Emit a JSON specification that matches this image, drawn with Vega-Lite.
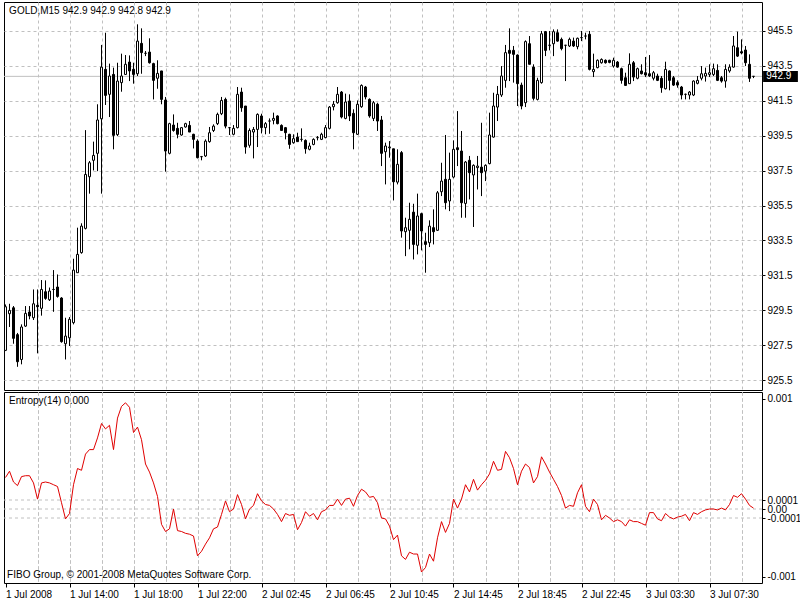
{
  "$schema": "https://vega.github.io/schema/vega-lite/v6.json",
  "background": "white",
  "padding": {"left": 2, "top": 1, "right": 0, "bottom": 0},
  "spacing": 2,
  "bounds": "flush",
  "config": {
    "view": {"stroke": "black", "strokeWidth": 1},
    "axis": {"labelFont": "Liberation Sans", "labelFontSize": 10, "labelColor": "black", "tickColor": "black", "labelOverlap": false, "labelBound": false, "title": null},
    "text": {"font": "Liberation Sans", "fontSize": 10, "color": "black"}
  },
  "datasets": {
    "bars": [
      {"i":0,"o":927.2,"h":929.83,"l":927.16,"c":929.7,"e":3.5e-4},
      {"i":1,"o":929.3,"h":929.87,"l":928.54,"c":929.49,"e":4.2e-4},
      {"i":2,"o":929.64,"h":929.74,"l":927.58,"c":927.89,"e":3.0e-4},
      {"i":3,"o":928.1,"h":928.2,"l":926.26,"c":926.55,"e":2.6e-4},
      {"i":4,"o":926.68,"h":928.69,"l":926.4,"c":928.54,"e":3.6e-4},
      {"i":5,"o":928.59,"h":929.74,"l":928.54,"c":929.32,"e":3.7e-4},
      {"i":6,"o":929.4,"h":929.74,"l":928.98,"c":929.17,"e":3.7e-4},
      {"i":7,"o":929.07,"h":930.69,"l":928.94,"c":929.87,"e":2.9e-4},
      {"i":8,"o":929.78,"h":930.69,"l":927.03,"c":929.7,"e":1.1e-4},
      {"i":9,"o":929.61,"h":931.23,"l":929.19,"c":930.69,"e":2.9e-4},
      {"i":10,"o":930.56,"h":931.21,"l":930.1,"c":930.18,"e":3.0e-4},
      {"i":11,"o":930.1,"h":930.8,"l":930.03,"c":930.6,"e":2.9e-4},
      {"i":12,"o":930.69,"h":931.8,"l":929.41,"c":930.69,"e":2.7e-4},
      {"i":13,"o":930.83,"h":931.55,"l":930.22,"c":930.29,"e":2.5e-4},
      {"i":14,"o":930.2,"h":930.25,"l":927.64,"c":927.7,"e":0.7e-4},
      {"i":15,"o":927.58,"h":929.07,"l":926.68,"c":928.02,"e":-1.1e-4},
      {"i":16,"o":927.92,"h":929.11,"l":927.45,"c":928.98,"e":-0.5e-4},
      {"i":17,"o":928.79,"h":932.45,"l":928.69,"c":931.8,"e":2.7e-4},
      {"i":18,"o":931.65,"h":934.23,"l":931.65,"c":932.7,"e":4.5e-4},
      {"i":19,"o":932.8,"h":934.48,"l":932.74,"c":934.32,"e":4.3e-4},
      {"i":20,"o":934.19,"h":939.82,"l":934.13,"c":937.28,"e":6.1e-4},
      {"i":21,"o":937.15,"h":938.05,"l":936.18,"c":937.95,"e":6.6e-4},
      {"i":22,"o":938.09,"h":939.16,"l":937.51,"c":938.37,"e":6.6e-4},
      {"i":23,"o":938.49,"h":941.3,"l":937.47,"c":940.4,"e":7.9e-4},
      {"i":24,"o":940.47,"h":944.7,"l":936.18,"c":943.43,"e":9.5e-4},
      {"i":25,"o":943.3,"h":945.4,"l":941.26,"c":941.81,"e":8.9e-4},
      {"i":26,"o":941.87,"h":943.63,"l":940.57,"c":942.92,"e":9.3e-4},
      {"i":27,"o":943.01,"h":943.4,"l":938.72,"c":939.52,"e":6.6e-4},
      {"i":28,"o":939.56,"h":943.68,"l":939.48,"c":942.63,"e":10.1e-4},
      {"i":29,"o":942.54,"h":944.2,"l":942.02,"c":942.92,"e":11.4e-4},
      {"i":30,"o":943.01,"h":944.12,"l":942.98,"c":943.59,"e":11.8e-4},
      {"i":31,"o":943.72,"h":944.1,"l":942.63,"c":943.21,"e":11.3e-4},
      {"i":32,"o":943.3,"h":943.68,"l":942.48,"c":943.01,"e":8.5e-4},
      {"i":33,"o":943.05,"h":945.88,"l":942.92,"c":944.92,"e":9.1e-4},
      {"i":34,"o":944.79,"h":945.65,"l":943.05,"c":944.26,"e":7.7e-4},
      {"i":35,"o":944.22,"h":944.35,"l":944.06,"c":944.22,"e":5.0e-4},
      {"i":36,"o":944.29,"h":945.08,"l":943.63,"c":943.68,"e":4.1e-4},
      {"i":37,"o":943.63,"h":943.68,"l":941.58,"c":942.67,"e":2.9e-4},
      {"i":38,"o":942.79,"h":943.82,"l":942.19,"c":943.07,"e":1.4e-4},
      {"i":39,"o":943.21,"h":943.21,"l":941.3,"c":941.58,"e":-1.7e-4},
      {"i":40,"o":941.54,"h":941.72,"l":937.44,"c":938.62,"e":-2.5e-4},
      {"i":41,"o":938.49,"h":940.24,"l":938.43,"c":940.19,"e":-2.2e-4},
      {"i":42,"o":940.11,"h":940.72,"l":939.73,"c":939.8,"e":0},
      {"i":43,"o":939.92,"h":940.24,"l":939.35,"c":939.58,"e":-2.4e-4},
      {"i":44,"o":939.54,"h":940.0,"l":939.5,"c":939.96,"e":-2.5e-4},
      {"i":45,"o":940.0,"h":940.24,"l":939.96,"c":940.19,"e":-2.7e-4},
      {"i":46,"o":940.09,"h":940.34,"l":939.71,"c":939.71,"e":-2.8e-4},
      {"i":47,"o":939.58,"h":939.61,"l":938.77,"c":939.29,"e":-3.0e-4},
      {"i":48,"o":939.19,"h":939.29,"l":938.2,"c":938.24,"e":-5.2e-4},
      {"i":49,"o":938.3,"h":938.34,"l":938.09,"c":938.3,"e":-4.7e-4},
      {"i":50,"o":938.34,"h":939.29,"l":938.28,"c":939.19,"e":-3.9e-4},
      {"i":51,"o":939.16,"h":940.0,"l":939.1,"c":939.67,"e":-3.2e-4},
      {"i":52,"o":939.8,"h":940.15,"l":939.71,"c":940.05,"e":-2.2e-4},
      {"i":53,"o":940.19,"h":940.82,"l":940.11,"c":940.72,"e":-2.0e-4},
      {"i":54,"o":940.76,"h":941.72,"l":940.68,"c":941.52,"e":-0.6e-4},
      {"i":55,"o":941.58,"h":941.68,"l":939.92,"c":940.05,"e":0.9e-4},
      {"i":56,"o":939.96,"h":940.0,"l":939.54,"c":939.96,"e":-0.3e-4},
      {"i":57,"o":939.58,"h":940.11,"l":939.52,"c":939.92,"e":0},
      {"i":58,"o":939.96,"h":942.29,"l":939.92,"c":941.87,"e":1.6e-4},
      {"i":59,"o":942.0,"h":942.25,"l":940.87,"c":941.1,"e":0.5e-4},
      {"i":60,"o":941.2,"h":941.2,"l":938.47,"c":938.85,"e":-1.1e-4},
      {"i":61,"o":938.95,"h":939.92,"l":938.81,"c":939.8,"e":0},
      {"i":62,"o":939.71,"h":940.0,"l":938.2,"c":939.86,"e":0.4e-4},
      {"i":63,"o":939.86,"h":940.78,"l":938.85,"c":940.72,"e":1.7e-4},
      {"i":64,"o":940.63,"h":940.76,"l":939.63,"c":939.96,"e":0.9e-4},
      {"i":65,"o":939.96,"h":940.28,"l":939.58,"c":940.19,"e":0.5e-4},
      {"i":66,"o":940.34,"h":940.49,"l":939.61,"c":940.34,"e":0.4e-4},
      {"i":67,"o":940.38,"h":940.82,"l":940.15,"c":940.49,"e":0},
      {"i":68,"o":940.63,"h":940.67,"l":940.15,"c":940.19,"e":-0.6e-4},
      {"i":69,"o":940.09,"h":940.15,"l":939.77,"c":939.8,"e":-1.4e-4},
      {"i":70,"o":939.96,"h":940.0,"l":939.29,"c":939.67,"e":-0.5e-4},
      {"i":71,"o":939.58,"h":939.61,"l":938.75,"c":939.0,"e":-0.7e-4},
      {"i":72,"o":939.1,"h":939.58,"l":939.04,"c":939.33,"e":-0.6e-4},
      {"i":73,"o":939.42,"h":939.67,"l":939.16,"c":939.16,"e":-2.3e-4},
      {"i":74,"o":939.29,"h":939.92,"l":939.16,"c":939.29,"e":-1.5e-4},
      {"i":75,"o":939.23,"h":939.29,"l":938.47,"c":938.75,"e":-0.3e-4},
      {"i":76,"o":938.72,"h":939.1,"l":938.66,"c":938.91,"e":-0.8e-4},
      {"i":77,"o":939.0,"h":939.35,"l":938.95,"c":939.29,"e":-0.5e-4},
      {"i":78,"o":939.39,"h":939.48,"l":939.23,"c":939.39,"e":-1.2e-4},
      {"i":79,"o":939.29,"h":939.67,"l":939.25,"c":939.58,"e":-0.3e-4},
      {"i":80,"o":939.39,"h":940.11,"l":939.35,"c":939.96,"e":-0.1e-4},
      {"i":81,"o":939.92,"h":941.2,"l":939.86,"c":941.14,"e":0.4e-4},
      {"i":82,"o":941.16,"h":941.49,"l":940.95,"c":941.3,"e":0.4e-4},
      {"i":83,"o":941.39,"h":942.29,"l":941.33,"c":941.87,"e":1.1e-4},
      {"i":84,"o":942.0,"h":942.06,"l":940.49,"c":940.57,"e":0.4e-4},
      {"i":85,"o":940.49,"h":941.91,"l":940.44,"c":941.43,"e":1.1e-4},
      {"i":86,"o":941.49,"h":941.87,"l":940.34,"c":940.63,"e":1.2e-4},
      {"i":87,"o":940.78,"h":941.01,"l":938.72,"c":939.67,"e":0.3e-4},
      {"i":88,"o":939.58,"h":941.52,"l":939.54,"c":941.3,"e":1.5e-4},
      {"i":89,"o":941.16,"h":942.44,"l":941.1,"c":942.38,"e":2.2e-4},
      {"i":90,"o":942.29,"h":942.35,"l":941.58,"c":941.72,"e":1.9e-4},
      {"i":91,"o":941.58,"h":941.64,"l":940.53,"c":940.63,"e":1.3e-4},
      {"i":92,"o":940.49,"h":941.49,"l":940.34,"c":941.39,"e":1.4e-4},
      {"i":93,"o":941.3,"h":941.39,"l":939.77,"c":940.34,"e":0.7e-4},
      {"i":94,"o":940.4,"h":940.63,"l":937.76,"c":938.49,"e":-1.0e-4},
      {"i":95,"o":938.58,"h":939.1,"l":936.71,"c":938.91,"e":-1.1e-4},
      {"i":96,"o":938.81,"h":939.19,"l":938.24,"c":938.85,"e":-1.9e-4},
      {"i":97,"o":938.75,"h":938.75,"l":935.79,"c":936.86,"e":-3.4e-4},
      {"i":98,"o":936.84,"h":938.72,"l":936.71,"c":937.86,"e":-2.9e-4},
      {"i":99,"o":938.53,"h":938.62,"l":933.66,"c":934.04,"e":-5.2e-4},
      {"i":100,"o":934.0,"h":934.8,"l":932.6,"c":934.23,"e":-5.6e-4},
      {"i":101,"o":934.08,"h":935.66,"l":932.99,"c":934.71,"e":-4.8e-4},
      {"i":102,"o":935.12,"h":935.6,"l":932.41,"c":933.27,"e":-5.0e-4},
      {"i":103,"o":933.22,"h":936.18,"l":932.7,"c":934.9,"e":-5.0e-4},
      {"i":104,"o":935.03,"h":935.09,"l":932.93,"c":934.04,"e":-7.0e-4},
      {"i":105,"o":933.43,"h":933.94,"l":931.65,"c":933.27,"e":-6.5e-4},
      {"i":106,"o":933.37,"h":934.65,"l":933.12,"c":934.32,"e":-5.0e-4},
      {"i":107,"o":934.23,"h":935.28,"l":933.27,"c":934.0,"e":-5.8e-4},
      {"i":108,"o":934.08,"h":936.33,"l":934.04,"c":936.23,"e":-3.2e-4},
      {"i":109,"o":936.29,"h":937.95,"l":936.04,"c":936.9,"e":-1.4e-4},
      {"i":110,"o":937.0,"h":939.54,"l":935.28,"c":935.66,"e":-2.6e-4},
      {"i":111,"o":935.76,"h":938.53,"l":935.18,"c":937.0,"e":-1.6e-4},
      {"i":112,"o":937.13,"h":939.23,"l":937.06,"c":938.72,"e":1.1e-4},
      {"i":113,"o":938.81,"h":940.91,"l":937.76,"c":938.7,"e":0.1e-4},
      {"i":114,"o":938.62,"h":939.77,"l":934.8,"c":935.66,"e":1.1e-4},
      {"i":115,"o":935.62,"h":938.05,"l":934.8,"c":937.99,"e":2.7e-4},
      {"i":116,"o":938.09,"h":938.34,"l":935.85,"c":937.38,"e":1.9e-4},
      {"i":117,"o":937.25,"h":937.86,"l":934.27,"c":937.8,"e":3.3e-4},
      {"i":118,"o":937.67,"h":938.34,"l":936.42,"c":937.76,"e":2.1e-4},
      {"i":119,"o":937.7,"h":940.24,"l":936.04,"c":937.38,"e":2.7e-4},
      {"i":120,"o":937.47,"h":937.86,"l":936.9,"c":937.8,"e":3.2e-4},
      {"i":121,"o":937.9,"h":940.82,"l":937.86,"c":939.54,"e":3.9e-4},
      {"i":122,"o":939.42,"h":941.96,"l":939.39,"c":941.2,"e":5.3e-4},
      {"i":123,"o":941.14,"h":942.35,"l":940.34,"c":941.87,"e":4.3e-4},
      {"i":124,"o":941.83,"h":943.49,"l":941.72,"c":942.92,"e":4.4e-4},
      {"i":125,"o":942.67,"h":944.7,"l":942.25,"c":944.26,"e":6.4e-4},
      {"i":126,"o":944.39,"h":945.65,"l":942.63,"c":944.22,"e":5.7e-4},
      {"i":127,"o":944.39,"h":944.64,"l":942.54,"c":944.16,"e":4.5e-4},
      {"i":128,"o":944.12,"h":944.16,"l":941.2,"c":942.48,"e":2.7e-4},
      {"i":129,"o":942.4,"h":942.54,"l":941.01,"c":941.2,"e":4.2e-4},
      {"i":130,"o":941.39,"h":944.96,"l":941.14,"c":944.89,"e":5.0e-4},
      {"i":131,"o":944.77,"h":945.21,"l":943.59,"c":943.59,"e":4.6e-4},
      {"i":132,"o":943.43,"h":943.59,"l":941.52,"c":941.64,"e":2.9e-4},
      {"i":133,"o":941.58,"h":942.82,"l":941.52,"c":942.67,"e":3.6e-4},
      {"i":134,"o":942.54,"h":945.5,"l":942.48,"c":945.34,"e":5.8e-4},
      {"i":135,"o":945.46,"h":945.5,"l":944.06,"c":944.39,"e":5.0e-4},
      {"i":136,"o":944.68,"h":945.5,"l":944.39,"c":944.68,"e":4.1e-4},
      {"i":137,"o":944.77,"h":945.59,"l":944.06,"c":945.46,"e":3.3e-4},
      {"i":138,"o":945.4,"h":945.59,"l":944.89,"c":944.92,"e":2.5e-4},
      {"i":139,"o":945.02,"h":945.12,"l":944.39,"c":944.49,"e":1.5e-4},
      {"i":140,"o":944.68,"h":944.7,"l":942.63,"c":944.68,"e":0.1e-4},
      {"i":141,"o":944.64,"h":945.12,"l":944.58,"c":945.02,"e":0.4e-4},
      {"i":142,"o":944.92,"h":945.12,"l":944.58,"c":944.64,"e":0.3e-4},
      {"i":143,"o":944.6,"h":945.12,"l":944.45,"c":945.08,"e":1.8e-4},
      {"i":144,"o":945.12,"h":945.5,"l":944.92,"c":945.12,"e":2.7e-4},
      {"i":145,"o":945.21,"h":945.4,"l":945.02,"c":945.21,"e":0.3e-4},
      {"i":146,"o":945.31,"h":945.5,"l":943.24,"c":943.3,"e":-0.3e-4},
      {"i":147,"o":943.17,"h":944.2,"l":942.86,"c":943.3,"e":1.1e-4},
      {"i":148,"o":943.4,"h":943.87,"l":943.36,"c":943.82,"e":0.5e-4},
      {"i":149,"o":943.68,"h":943.93,"l":943.63,"c":943.87,"e":-1.2e-4},
      {"i":150,"o":943.82,"h":943.87,"l":943.63,"c":943.68,"e":-0.7e-4},
      {"i":151,"o":943.82,"h":943.85,"l":943.65,"c":943.7,"e":-1.0e-4},
      {"i":152,"o":943.49,"h":943.97,"l":943.4,"c":943.82,"e":-1.4e-4},
      {"i":153,"o":943.72,"h":943.78,"l":943.4,"c":943.43,"e":-1.2e-4},
      {"i":154,"o":943.34,"h":943.4,"l":942.48,"c":942.67,"e":-1.4e-4},
      {"i":155,"o":942.82,"h":943.11,"l":942.35,"c":942.38,"e":-1.9e-4},
      {"i":156,"o":942.48,"h":944.22,"l":942.48,"c":943.59,"e":-1.2e-4},
      {"i":157,"o":943.68,"h":943.78,"l":942.63,"c":942.86,"e":-1.4e-4},
      {"i":158,"o":942.79,"h":943.4,"l":942.73,"c":943.34,"e":-1.4e-4},
      {"i":159,"o":943.21,"h":943.59,"l":943.01,"c":943.05,"e":-1.6e-4},
      {"i":160,"o":943.11,"h":944.01,"l":942.86,"c":942.98,"e":-1.8e-4},
      {"i":161,"o":943.05,"h":944.12,"l":942.86,"c":942.92,"e":-0.4e-4},
      {"i":162,"o":942.79,"h":943.21,"l":942.67,"c":943.11,"e":-0.4e-4},
      {"i":163,"o":942.92,"h":943.05,"l":942.63,"c":942.67,"e":-1.1e-4},
      {"i":164,"o":942.79,"h":942.92,"l":941.96,"c":942.25,"e":-1.3e-4},
      {"i":165,"o":942.19,"h":943.74,"l":942.15,"c":943.3,"e":-0.5e-4},
      {"i":166,"o":943.21,"h":943.24,"l":942.1,"c":942.67,"e":-0.9e-4},
      {"i":167,"o":942.82,"h":942.92,"l":942.35,"c":942.4,"e":-1.1e-4},
      {"i":168,"o":942.54,"h":942.67,"l":942.25,"c":942.4,"e":-0.9e-4},
      {"i":169,"o":942.29,"h":942.35,"l":941.58,"c":941.83,"e":-0.8e-4},
      {"i":170,"o":941.87,"h":941.91,"l":941.58,"c":941.87,"e":-0.6e-4},
      {"i":171,"o":941.83,"h":942.06,"l":941.58,"c":942.0,"e":-1.3e-4},
      {"i":172,"o":941.83,"h":942.67,"l":941.77,"c":942.63,"e":-0.4e-4},
      {"i":173,"o":942.5,"h":942.92,"l":942.44,"c":942.67,"e":-0.6e-4},
      {"i":174,"o":942.79,"h":943.49,"l":942.67,"c":943.05,"e":-0.3e-4},
      {"i":175,"o":942.92,"h":943.4,"l":942.6,"c":943.07,"e":-0.1e-4},
      {"i":176,"o":943.01,"h":943.59,"l":942.86,"c":943.11,"e":0},
      {"i":177,"o":943.01,"h":943.63,"l":942.92,"c":943.34,"e":0},
      {"i":178,"o":943.24,"h":943.59,"l":942.63,"c":942.67,"e":-0.1e-4},
      {"i":179,"o":942.82,"h":942.92,"l":942.54,"c":942.63,"e":0.1e-4},
      {"i":180,"o":942.63,"h":943.59,"l":942.25,"c":943.3,"e":-0.1e-4},
      {"i":181,"o":943.21,"h":943.59,"l":943.11,"c":943.43,"e":0.5e-4},
      {"i":182,"o":943.43,"h":945.21,"l":943.4,"c":944.64,"e":1.5e-4},
      {"i":183,"o":944.54,"h":945.46,"l":944.01,"c":944.06,"e":1.3e-4},
      {"i":184,"o":944.31,"h":945.02,"l":944.16,"c":944.24,"e":1.7e-4},
      {"i":185,"o":944.41,"h":944.64,"l":943.49,"c":943.68,"e":1.1e-4},
      {"i":186,"o":943.59,"h":944.16,"l":942.58,"c":942.79,"e":0.4e-4},
      {"i":187,"o":942.9,"h":942.9,"l":942.8,"c":942.9,"e":0.1e-4}
    ],
    "levels": [{"lv": 1e-4}, {"lv": 0}, {"lv": -1e-4}],
    "one": [{}]
  },
  "vconcat": [
    {
      "width": 758,
      "height": 388,
      "layer": [
        {
          "data": {"name": "one"},
          "mark": {"type": "rule", "color": "#c0c0c0", "strokeWidth": 1},
          "encoding": {"y": {"datum": 942.9, "type": "quantitative",
                  "scale": {"domain": [924.93, 947.16], "nice": false, "zero": false, "padding": 0},
                  "axis": {"orient": "right", "values": [925.5,927.5,929.5,931.5,933.5,935.5,937.5,939.5,941.5,943.5,945.5], "format": ".1f", "grid": true, "gridDash": [3,3], "gridColor": "#c0c0c0", "tickSize": 3, "labelPadding": 2, "domain": false}}}
        },
        {
          "data": {"name": "bars"},
          "mark": {"type": "rule", "color": "black", "strokeWidth": 1},
          "encoding": {
            "x": {"field": "i", "type": "quantitative",
                  "scale": {"domain": [-0.375, 189.125], "nice": false, "zero": false, "padding": 0},
                  "axis": {"orient": "bottom", "values": [8,16,24,32,40,48,56,64,72,80,88,96,104,112,120,128,136,144,152,160,168,176,184], "labels": false, "ticks": false, "domain": false, "grid": true, "gridDash": [3,3], "gridColor": "#c0c0c0"}},
            "y": {"field": "l", "type": "quantitative",
                  "axis": {"orient": "right", "values": [925.5,927.5,929.5,931.5,933.5,935.5,937.5,939.5,941.5,943.5,945.5], "format": ".1f", "grid": true, "gridDash": [3,3], "gridColor": "#c0c0c0", "tickSize": 3, "labelPadding": 2, "domain": false}},
            "y2": {"field": "h"}
          }
        },
        {
          "data": {"name": "bars"},
          "mark": {"type": "bar", "size": 2, "stroke": "black", "strokeWidth": 1},
          "encoding": {
            "x": {"field": "i", "type": "quantitative",
                  "axis": {"orient": "bottom", "values": [8,16,24,32,40,48,56,64,72,80,88,96,104,112,120,128,136,144,152,160,168,176,184], "labels": false, "ticks": false, "domain": false, "grid": true, "gridDash": [3,3], "gridColor": "#c0c0c0"}},
            "y": {"field": "o", "type": "quantitative",
                  "axis": {"orient": "right", "values": [925.5,927.5,929.5,931.5,933.5,935.5,937.5,939.5,941.5,943.5,945.5], "format": ".1f", "grid": true, "gridDash": [3,3], "gridColor": "#c0c0c0", "tickSize": 3, "labelPadding": 2, "domain": false}},
            "y2": {"field": "c"},
            "fill": {"condition": {"test": "datum.c >= datum.o", "value": "white"}, "value": "black"}
          }
        },
        {
          "data": {"name": "one"},
          "mark": {"type": "text", "align": "left", "baseline": "middle"},
          "encoding": {
            "x": {"datum": 0.9, "type": "quantitative",
                  "axis": {"orient": "bottom", "values": [8,16,24,32,40,48,56,64,72,80,88,96,104,112,120,128,136,144,152,160,168,176,184], "labels": false, "ticks": false, "domain": false, "grid": true, "gridDash": [3,3], "gridColor": "#c0c0c0"}},
            "y": {"datum": 946.65, "type": "quantitative",
                  "axis": {"orient": "right", "values": [925.5,927.5,929.5,931.5,933.5,935.5,937.5,939.5,941.5,943.5,945.5], "format": ".1f", "grid": true, "gridDash": [3,3], "gridColor": "#c0c0c0", "tickSize": 3, "labelPadding": 2, "domain": false}},
            "text": {"value": "GOLD,M15  942.9 942.9 942.8 942.9"}
          }
        },
        {
          "data": {"name": "one"},
          "mark": {"type": "rect", "color": "black", "clip": false},
          "encoding": {
            "x": {"datum": 189.4, "type": "quantitative",
                  "axis": {"orient": "bottom", "values": [8,16,24,32,40,48,56,64,72,80,88,96,104,112,120,128,136,144,152,160,168,176,184], "labels": false, "ticks": false, "domain": false, "grid": true, "gridDash": [3,3], "gridColor": "#c0c0c0"}},
            "x2": {"datum": 198.1},
            "y": {"datum": 943.21, "type": "quantitative",
                  "axis": {"orient": "right", "values": [925.5,927.5,929.5,931.5,933.5,935.5,937.5,939.5,941.5,943.5,945.5], "format": ".1f", "grid": true, "gridDash": [3,3], "gridColor": "#c0c0c0", "tickSize": 3, "labelPadding": 2, "domain": false}},
            "y2": {"datum": 942.58}
          }
        },
        {
          "data": {"name": "one"},
          "mark": {"type": "text", "align": "left", "baseline": "middle", "color": "white", "clip": false},
          "encoding": {
            "x": {"datum": 190.2, "type": "quantitative",
                  "axis": {"orient": "bottom", "values": [8,16,24,32,40,48,56,64,72,80,88,96,104,112,120,128,136,144,152,160,168,176,184], "labels": false, "ticks": false, "domain": false, "grid": true, "gridDash": [3,3], "gridColor": "#c0c0c0"}},
            "y": {"datum": 942.9, "type": "quantitative",
                  "axis": {"orient": "right", "values": [925.5,927.5,929.5,931.5,933.5,935.5,937.5,939.5,941.5,943.5,945.5], "format": ".1f", "grid": true, "gridDash": [3,3], "gridColor": "#c0c0c0", "tickSize": 3, "labelPadding": 2, "domain": false}},
            "text": {"value": "942.9"}
          }
        }
      ]
    },
    {
      "width": 758,
      "height": 191,
      "resolve": {"axis": {"x": "independent"}},
      "layer": [
        {
          "data": {"name": "levels"},
          "mark": {"type": "rule", "color": "#c0c0c0", "strokeWidth": 1, "strokeDash": [3,3]},
          "encoding": {
            "y": {"field": "lv", "type": "quantitative",
                  "scale": {"domain": [-0.000822, 0.0013], "nice": false, "zero": false},
                  "axis": {"orient": "right", "values": [0.001226, 0.0001, 0, -0.0001, -0.000752], "labelExpr": "datum.value > 0.0005 ? '0.001' : datum.value > 0.00005 ? '0.0001' : datum.value > -0.00005 ? '0.00' : datum.value > -0.0005 ? '-0.0001' : '-0.001'", "grid": false, "tickSize": 3, "labelPadding": 2, "domain": false}}
          }
        },
        {
          "data": {"name": "bars"},
          "mark": {"type": "line", "color": "#e00000", "strokeWidth": 1},
          "encoding": {
            "x": {"field": "i", "type": "quantitative",
                  "scale": {"domain": [-0.375, 189.125], "nice": false, "zero": false, "padding": 0},
                  "axis": {"orient": "bottom", "values": [8,16,24,32,40,48,56,64,72,80,88,96,104,112,120,128,136,144,152,160,168,176,184], "labels": false, "ticks": false, "domain": false, "grid": true, "gridDash": [3,3], "gridColor": "#c0c0c0"}},
            "y": {"field": "e", "type": "quantitative",
                  "axis": {"orient": "right", "values": [0.001226, 0.0001, 0, -0.0001, -0.000752], "labelExpr": "datum.value > 0.0005 ? '0.001' : datum.value > 0.00005 ? '0.0001' : datum.value > -0.00005 ? '0.00' : datum.value > -0.0005 ? '-0.0001' : '-0.001'", "grid": false, "tickSize": 3, "labelPadding": 2, "domain": false}}
          }
        },
        {
          "data": {"name": "bars"},
          "mark": {"type": "point", "opacity": 0},
          "encoding": {
            "x": {"field": "i", "type": "quantitative",
                  "axis": {"orient": "bottom", "values": [0,16,32,48,64,80,96,112,128,144,160,176], "labelExpr": "['1 Jul 2008','1 Jul 14:00','1 Jul 18:00','1 Jul 22:00','2 Jul 02:45','2 Jul 06:45','2 Jul 10:45','2 Jul 14:45','2 Jul 18:45','2 Jul 22:45','3 Jul 03:30','3 Jul 07:30'][round(datum.value/16)]", "labelAlign": "left", "labelFlush": false, "tickSize": 4, "labelPadding": 2, "grid": false, "domain": false}},
            "y": {"field": "e", "type": "quantitative",
                  "axis": {"orient": "right", "values": [0.001226, 0.0001, 0, -0.0001, -0.000752], "labelExpr": "datum.value > 0.0005 ? '0.001' : datum.value > 0.00005 ? '0.0001' : datum.value > -0.00005 ? '0.00' : datum.value > -0.0005 ? '-0.0001' : '-0.001'", "grid": false, "tickSize": 3, "labelPadding": 2, "domain": false}}
          }
        },
        {
          "data": {"name": "one"},
          "mark": {"type": "text", "align": "left", "baseline": "middle"},
          "encoding": {
            "x": {"datum": 0.9, "type": "quantitative",
                  "axis": {"orient": "bottom", "values": [8,16,24,32,40,48,56,64,72,80,88,96,104,112,120,128,136,144,152,160,168,176,184], "labels": false, "ticks": false, "domain": false, "grid": true, "gridDash": [3,3], "gridColor": "#c0c0c0"}},
            "y": {"datum": 0.0012, "type": "quantitative",
                  "axis": {"orient": "right", "values": [0.001226, 0.0001, 0, -0.0001, -0.000752], "labelExpr": "datum.value > 0.0005 ? '0.001' : datum.value > 0.00005 ? '0.0001' : datum.value > -0.00005 ? '0.00' : datum.value > -0.0005 ? '-0.0001' : '-0.001'", "grid": false, "tickSize": 3, "labelPadding": 2, "domain": false}},
            "text": {"value": "Entropy(14) 0.000"}
          }
        },
        {
          "data": {"name": "one"},
          "mark": {"type": "text", "align": "left", "baseline": "middle"},
          "encoding": {
            "x": {"datum": 0.4, "type": "quantitative",
                  "axis": {"orient": "bottom", "values": [8,16,24,32,40,48,56,64,72,80,88,96,104,112,120,128,136,144,152,160,168,176,184], "labels": false, "ticks": false, "domain": false, "grid": true, "gridDash": [3,3], "gridColor": "#c0c0c0"}},
            "y": {"datum": -0.000733, "type": "quantitative",
                  "axis": {"orient": "right", "values": [0.001226, 0.0001, 0, -0.0001, -0.000752], "labelExpr": "datum.value > 0.0005 ? '0.001' : datum.value > 0.00005 ? '0.0001' : datum.value > -0.00005 ? '0.00' : datum.value > -0.0005 ? '-0.0001' : '-0.001'", "grid": false, "tickSize": 3, "labelPadding": 2, "domain": false}},
            "text": {"value": "FIBO Group, © 2001-2008 MetaQuotes Software Corp."}
          }
        }
      ]
    }
  ]
}
